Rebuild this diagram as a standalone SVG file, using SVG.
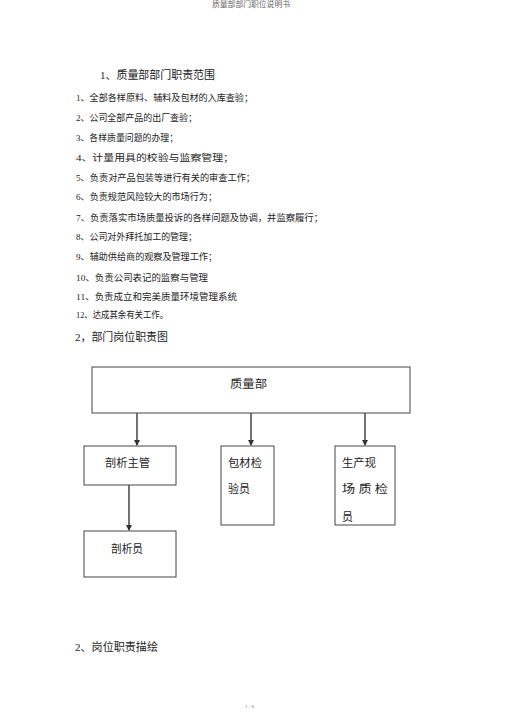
<svg xmlns="http://www.w3.org/2000/svg" width="505" height="714" viewBox="0 0 505 714">
<defs>
<style>
text{font-family:"Liberation Serif","Noto Sans CJK SC",serif;fill:#222}
.hd{font-size:7.5px;fill:#666}
.h{font-size:11px}
.it{font-size:9.2px}
.nd{font-size:11px}
.box{fill:#fff;stroke:#444;stroke-width:1}
.con{stroke:#444;stroke-width:1.5;fill:none}
.ft{font-size:5px;fill:#777}
</style>
<marker id="ah" markerWidth="6" markerHeight="6" refX="5" refY="3" orient="auto" markerUnits="userSpaceOnUse"><path d="M0,0 L6,3 L0,6 z" fill="#333"/></marker>
</defs>
<rect width="505" height="714" fill="#fff"/>
<text class="hd" x="212" y="7" textLength="78" lengthAdjust="spacingAndGlyphs">质量部部门职位说明书</text>
<text class="h" x="100" y="79" textLength="115" lengthAdjust="spacingAndGlyphs">1、质量部部门职责范围</text>
<g id="items">
<text class="it" x="76" y="101" textLength="177" lengthAdjust="spacingAndGlyphs">1、全部各样原料、辅料及包材的入库查验；</text>
<text class="it" x="76" y="121" textLength="121" lengthAdjust="spacingAndGlyphs">2、公司全部产品的出厂查验；</text>
<text class="it" x="76" y="141" textLength="102" lengthAdjust="spacingAndGlyphs">3、各样质量问题的办理；</text>
<text class="it" x="76" y="161" textLength="158" lengthAdjust="spacingAndGlyphs">4、计量用具的校验与监察管理；</text>
<text class="it" x="76" y="181" textLength="179" lengthAdjust="spacingAndGlyphs">5、负责对产品包装等进行有关的审查工作；</text>
<text class="it" x="76" y="200" textLength="141" lengthAdjust="spacingAndGlyphs">6、负责规范风险较大的市场行为；</text>
<text class="it" x="76" y="221" textLength="247" lengthAdjust="spacingAndGlyphs">7、负责落实市场质量投诉的各样问题及协调，并监察履行；</text>
<text class="it" x="76" y="240" textLength="121" lengthAdjust="spacingAndGlyphs">8、公司对外拜托加工的管理；</text>
<text class="it" x="76" y="260" textLength="141" lengthAdjust="spacingAndGlyphs">9、辅助供给商的观察及管理工作；</text>
<text class="it" x="76" y="281" textLength="132" lengthAdjust="spacingAndGlyphs">10、负责公司表记的监察与管理</text>
<text class="it" x="76" y="300" textLength="161" lengthAdjust="spacingAndGlyphs">11、负责成立和完美质量环境管理系统</text>
<text class="it" x="76" y="318" textLength="92" lengthAdjust="spacingAndGlyphs">12、达成其余有关工作。</text>
</g>
<text class="h" x="75" y="341" textLength="93" lengthAdjust="spacingAndGlyphs">2，部门岗位职责图</text>
<g id="connectors">
<line class="con" x1="137" y1="413" x2="137" y2="445" marker-end="url(#ah)"/>
<line class="con" x1="251" y1="413" x2="251" y2="445" marker-end="url(#ah)"/>
<line class="con" x1="365" y1="413" x2="365" y2="445" marker-end="url(#ah)"/>
<line class="con" x1="129" y1="485" x2="129" y2="530" marker-end="url(#ah)"/>
</g>
<g id="n-quality">
<rect class="box" x="92" y="367" width="318" height="46"/>
<text class="nd" x="230" y="388" textLength="37" lengthAdjust="spacingAndGlyphs">质量部</text>
</g>
<g id="n-supervisor">
<rect class="box" x="84" y="446" width="92" height="39"/>
<text class="nd" x="105" y="467" textLength="45" lengthAdjust="spacingAndGlyphs">剖析主管</text>
</g>
<g id="n-packing">
<rect class="box" x="221" y="446" width="53" height="79"/>
<text class="nd" x="228" y="467" textLength="34" lengthAdjust="spacingAndGlyphs">包材检</text>
<text class="nd" x="228" y="493" textLength="22" lengthAdjust="spacingAndGlyphs">验员</text>
</g>
<g id="n-site">
<rect class="box" x="335" y="446" width="60" height="79"/>
<text class="nd" x="342" y="467" textLength="34" lengthAdjust="spacingAndGlyphs">生产现</text>
<text class="nd" x="342" y="493" textLength="46" lengthAdjust="spacingAndGlyphs">场 质 检</text>
<text class="nd" x="342" y="521">员</text>
</g>
<g id="n-analyst">
<rect class="box" x="84" y="531" width="92" height="46"/>
<text class="nd" x="111" y="553" textLength="32" lengthAdjust="spacingAndGlyphs">剖析员</text>
</g>
<text class="h" x="75" y="651" textLength="83" lengthAdjust="spacingAndGlyphs">2、岗位职责描绘</text>
<text class="ft" x="245" y="708">1 / 8</text>
</svg>
